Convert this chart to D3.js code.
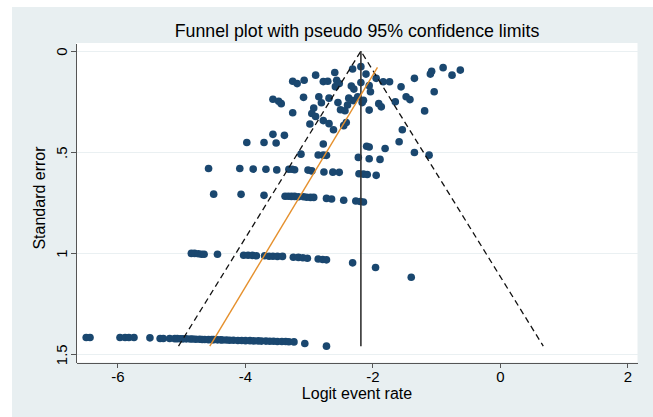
<!DOCTYPE html>
<meta charset="utf-8">
<style>
body { margin: 0; background: #fff; font-family: "Liberation Sans", Arial, sans-serif; }
.axis path,
.axis line { stroke: #555; shape-rendering: crispEdges; }
.axis text { font-size: 15px; fill: #000; font-family: "Liberation Sans", Arial, sans-serif; }
.grid line { stroke: #eaf0f2; stroke-width: 1; shape-rendering: crispEdges; }
</style>
<body>
<svg id="chart" width="653" height="417"></svg>
<script src="https://d3js.org/d3.v7.min.js"></script>
<script>
// studies as [logit event rate, standard error]
var topCluster = [
  [-2.18,0.077],[-2.31,0.089],[-2.59,0.106],[-2.10,0.114],[-2.89,0.119],
  [-3.25,0.149],[-3.18,0.161],[-3.07,0.144],[-2.77,0.151],[-2.70,0.149],
  [-2.56,0.144],[-2.52,0.161],[-2.58,0.176],[-2.33,0.173],[-2.18,0.156],
  [-2.05,0.171],[-1.94,0.135],[-1.83,0.152],[-1.73,0.152],[-1.34,0.135],
  [-1.55,0.177],[-2.29,0.188],[-2.03,0.201],[-3.56,0.238],[-3.47,0.248],
  [-3.43,0.260],[-3.08,0.229],[-2.84,0.226],[-2.68,0.233],[-2.37,0.233],
  [-2.30,0.245],[-2.23,0.226],[-2.14,0.243],[-2.16,0.255],[-2.54,0.255],
  [-2.39,0.267],[-1.90,0.260],[-1.86,0.276],[-1.64,0.251],[-1.47,0.226],
  [-1.41,0.240],[-2.80,0.256],[-2.92,0.282],[-3.25,0.305],[-2.50,0.290],
  [-2.43,0.295],[-2.05,0.292],[-2.95,0.309],[-2.89,0.324],[-2.77,0.344],
  [-2.68,0.359],[-2.98,0.361],[-2.61,0.389],[-2.41,0.354],[-2.45,0.369],
  [-1.53,0.389],[-3.56,0.412],[-3.38,0.417],[-0.89,0.082],[-0.62,0.094],
  [-0.75,0.119],[-1.07,0.100],[-1.09,0.114],[-1.03,0.201],[-1.18,0.296],
  [-1.58,0.449],[-1.34,0.502],[-1.11,0.515],[-3.97,0.452],[-3.70,0.452],
  [-3.51,0.455],[-2.77,0.460],[-2.09,0.471],[-2.05,0.475],[-1.80,0.482],
  [-3.12,0.510],[-2.85,0.514],[-2.77,0.515],[-2.72,0.516],[-2.22,0.526],
  [-2.05,0.533],[-1.88,0.536]
];
var row058 = [
  [-4.57,0.581],[-4.08,0.581],[-3.87,0.584],[-3.67,0.585],[-3.50,0.588],
  [-3.31,0.585],[-3.26,0.585],[-3.22,0.587],[-3.01,0.589],[-2.95,0.593],
  [-2.76,0.598],[-2.62,0.599],[-2.52,0.600],[-2.21,0.607],[-2.14,0.609],
  [-2.08,0.611],[-1.94,0.615]
];
var row072 = [
  [-4.49,0.708],[-4.06,0.709],[-3.70,0.714],[-3.37,0.718],[-3.32,0.718],
  [-3.27,0.719],[-3.22,0.719],[-3.16,0.721],[-3.08,0.721],[-3.03,0.723],
  [-2.97,0.724],[-2.92,0.724],[-2.72,0.729],[-2.64,0.732],[-2.45,0.738],
  [-2.26,0.742],[-2.19,0.744],[-2.14,0.747]
];
var row100 = [
  [-4.84,1.001],[-4.79,1.001],[-4.73,1.003],[-4.68,1.005],[-4.64,1.005],
  [-4.43,1.005],[-4.02,1.010],[-3.95,1.010],[-3.88,1.011],[-3.82,1.013],
  [-3.69,1.013],[-3.62,1.015],[-3.56,1.015],[-3.49,1.016],[-3.41,1.016],
  [-3.24,1.020],[-3.16,1.021],[-3.09,1.023],[-3.02,1.025],[-2.85,1.029],
  [-2.78,1.031],[-2.72,1.033],[-2.31,1.048],[-1.95,1.071],[-1.39,1.119]
];
var row142 = [
  [-6.49,1.417],[-6.43,1.417],[-5.96,1.417],[-5.88,1.417],[-5.82,1.417],
  [-5.74,1.417],[-5.49,1.419],[-5.33,1.422],[-5.28,1.422],[-5.18,1.422],
  [-5.10,1.423],[-5.06,1.423],[-5.01,1.424],[-4.97,1.424],[-4.92,1.424],
  [-4.86,1.425],[-4.82,1.425],[-4.77,1.426],[-4.71,1.426],[-4.67,1.427],
  [-4.63,1.427],[-4.57,1.428],[-4.52,1.428],[-4.49,1.428],[-4.43,1.429],
  [-4.38,1.429],[-4.35,1.430],[-4.29,1.430],[-4.24,1.431],[-4.18,1.431],
  [-4.11,1.432],[-4.05,1.432],[-3.99,1.433],[-3.92,1.433],[-3.86,1.434],
  [-3.79,1.434],[-3.74,1.435],[-3.67,1.435],[-3.61,1.436],[-3.55,1.436],
  [-3.49,1.437],[-3.42,1.437],[-3.36,1.437],[-3.31,1.438],[-3.23,1.439],
  [-3.06,1.447],[-2.72,1.460]
];

var pooled = -2.18;      // pooled logit
var seMax = 1.46;        // funnel drawn down to this s.e.
var eggerLine = [[-4.55, 1.46], [-1.92, 0.081]];

var xTicks = [-6, -4, -2, 0, 2];
var yTicks = [0, 0.5, 1, 1.5];
var yTickLabels = ["0", ".5", "1", "1.5"];

var studies = topCluster.concat(row058, row072, row100, row142);

var svg = d3.select("#chart");

// graph region background (Stata s2color)
svg.append("rect")
  .attr("x", 12).attr("y", 7)
  .attr("width", 641).attr("height", 410)
  .style("fill", "#e8eff1");

var plot = {left: 76, right: 637.5, top: 43, bottom: 362.5};

svg.append("rect")
  .attr("x", plot.left).attr("y", plot.top)
  .attr("width", plot.right - plot.left).attr("height", plot.bottom - plot.top)
  .style("fill", "#fff");

var x = d3.scaleLinear().domain([-6.65, 2.16]).range([plot.left, plot.right]);
var y = d3.scaleLinear().domain([-0.04, 1.541]).range([plot.top, plot.bottom]);

// horizontal gridlines
svg.append("g").attr("class", "grid")
  .selectAll("line")
  .data(yTicks)
  .enter().append("line")
  .attr("x1", plot.left).attr("x2", plot.right)
  .attr("y1", d => y(d)).attr("y2", d => y(d));

// points
svg.append("g")
  .selectAll("circle")
  .data(studies)
  .enter().append("circle")
  .attr("cx", d => x(d[0]))
  .attr("cy", d => y(d[1]))
  .attr("r", 3.8)
  .style("fill", "#1a476f");

var line = d3.line().x(d => x(d[0])).y(d => y(d[1]));

// pseudo 95% limits
svg.append("path")
  .attr("d", line([[pooled - 1.96 * seMax, seMax], [pooled, 0], [pooled + 1.96 * seMax, seMax]]))
  .style("fill", "none").style("stroke", "#111").style("stroke-width", 1.3)
  .style("stroke-dasharray", "6,4");

// pooled estimate
svg.append("path")
  .attr("d", line([[pooled, 0], [pooled, seMax]]))
  .style("fill", "none").style("stroke", "#333").style("stroke-width", 1.6);

// regression line
svg.append("path")
  .attr("d", line(eggerLine))
  .style("fill", "none").style("stroke", "#e5902d").style("stroke-width", 1.4);

// axes
var xAxis = d3.axisBottom(x).tickValues(xTicks).tickSize(5).tickSizeOuter(0).tickPadding(4)
  .tickFormat(d => String(d));
svg.append("g")
  .attr("class", "x axis")
  .attr("transform", `translate(0,${plot.bottom})`)
  .call(xAxis);

var yAxis = d3.axisLeft(y).tickValues(yTicks).tickSize(5).tickSizeOuter(0)
  .tickFormat((d, i) => yTickLabels[i]);
var gy = svg.append("g")
  .attr("class", "y axis")
  .attr("transform", `translate(${plot.left},0)`)
  .call(yAxis);
gy.selectAll(".tick text")
  .attr("transform", "rotate(-90)")
  .attr("x", 0).attr("y", -9).attr("dy", 0)
  .style("text-anchor", "middle");

// titles
svg.append("text")
  .attr("x", 357).attr("y", 37)
  .attr("text-anchor", "middle")
  .style("font-size", "17.8px")
  .text("Funnel plot with pseudo 95% confidence limits");

svg.append("text")
  .attr("x", 357).attr("y", 399)
  .attr("text-anchor", "middle")
  .style("font-size", "16px")
  .text("Logit event rate");

svg.append("text")
  .attr("transform", "translate(45,198) rotate(-90)")
  .attr("text-anchor", "middle")
  .style("font-size", "16px")
  .text("Standard error");
</script>
</body>
